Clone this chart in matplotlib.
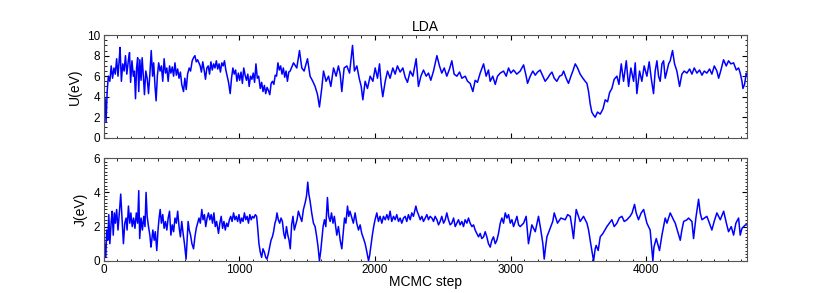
import numpy as np
import matplotlib
matplotlib.use("Agg")
import matplotlib.pyplot as plt
from matplotlib.ticker import MultipleLocator

plt.rcParams['font.family'] = ['Liberation Sans', 'DejaVu Sans']

# U(eV) trace (step, value)
u_steps = [0, 10, 17, 25, 34, 45, 55, 65, 75, 85, 95, 105, 113, 120, 130, 140, 150, 160, 170, 182,
           190, 198, 208, 218, 226, 234, 242, 250, 258, 266, 275, 283, 292, 300, 310, 320, 330, 340, 350, 360,
           368, 378, 386, 395, 405, 415, 425, 435, 445, 455, 465, 475, 485, 495, 505, 515, 525, 535, 545, 555,
           565, 575, 588, 598, 608, 618, 630, 640, 652, 662, 672, 682, 692, 711, 720, 730, 740, 750, 760, 770,
           780, 790, 800, 810, 820, 830, 840, 850, 860, 870, 880, 890, 900, 910, 920, 932, 942, 952, 962, 972,
           982, 992, 1002, 1012, 1022, 1032, 1042, 1052, 1062, 1072, 1082, 1092, 1102, 1112, 1122, 1132, 1142, 1154, 1164, 1174,
           1184, 1194, 1204, 1214, 1224, 1234, 1244, 1254, 1264, 1274, 1284, 1294, 1304, 1314, 1324, 1334, 1344, 1354, 1364,
           1374, 1399, 1423, 1443, 1460, 1477, 1502, 1521, 1541, 1558, 1576, 1590, 1607, 1620, 1639, 1657, 1674, 1694, 1713, 1730,
           1743, 1755, 1772, 1792, 1812, 1834, 1848, 1866, 1883, 1898, 1910, 1927, 1944, 1964, 1984, 2001, 2018, 2033, 2045, 2057,
           2075, 2092, 2111, 2131, 2148, 2165, 2185, 2205, 2222, 2239, 2259, 2279, 2303, 2320, 2338, 2357, 2377, 2394, 2411, 2431,
           2456, 2475, 2492, 2510, 2529, 2549, 2566, 2583, 2603, 2623, 2640, 2665, 2682, 2701, 2721, 2738, 2755, 2775, 2800, 2819,
           2836, 2849, 2868, 2886, 2903, 2923, 2947, 2967, 2984, 3001, 3021, 3045,
           3070, 3095, 3114, 3124, 3144, 3163, 3181, 3198, 3217, 3237, 3254, 3272, 3291, 3304, 3321, 3340, 3360, 3377, 3390, 3409,
           3426, 3444, 3458, 3476, 3493, 3512, 3532, 3549, 3562, 3574, 3586, 3598, 3611, 3623, 3640, 3660, 3680, 3697, 3714, 3729,
           3746, 3763, 3783, 3798, 3815, 3832, 3852, 3869, 3886, 3906, 3918, 3930, 3950, 3967, 3984, 4004, 4021, 4036, 4053, 4065,
           4078, 4090, 4102, 4115, 4127, 4139, 4152, 4164, 4176, 4193, 4208, 4225, 4245, 4262, 4279, 4299, 4319, 4336, 4353, 4373,
           4392, 4410, 4427, 4446, 4466, 4483, 4501, 4520, 4533, 4550, 4569, 4589, 4606, 4623, 4643, 4663, 4680, 4692, 4705, 4712,
           4724, 4737, 4742]
u_vals = [4.0, 3.8, 1.5, 4.5, 6.0, 5.5, 7.0, 5.8, 6.8, 6.2, 7.7, 6.0, 7.4, 8.8, 5.5, 7.2, 6.5, 8.0, 6.2, 7.6,
          8.3, 5.4, 7.5, 6.0, 6.5, 3.8, 6.8, 7.8, 4.5, 7.6, 5.6, 7.8, 6.0, 4.2, 6.5, 5.8, 4.3, 6.2, 8.5, 6.0,
          7.3, 5.0, 3.6, 6.0, 7.3, 6.5, 7.0, 5.5, 7.7, 6.3, 6.8, 5.5, 7.0, 6.3, 6.9, 6.0, 7.3, 6.1, 6.7, 5.8,
          6.4, 5.2, 4.5, 5.8, 4.7, 6.2, 6.8, 6.5, 7.5, 7.8, 8.0, 7.4, 7.6, 7.0, 6.4, 7.4, 6.6, 5.7, 6.8, 7.0,
          6.2, 7.4, 6.6, 7.2, 6.8, 7.5, 6.7, 7.2, 6.4, 7.3, 7.0, 7.5, 6.6, 6.0, 5.4, 4.3, 5.8, 6.8, 6.2, 6.6,
          5.5, 6.3, 5.6, 6.4, 5.3, 6.8, 6.1, 5.6, 6.2, 5.0, 6.0, 5.7, 6.3, 5.4, 7.2, 5.8, 6.0, 4.8, 5.4, 4.5,
          5.1, 4.3, 4.9, 4.6, 4.2, 5.3, 5.5, 5.2, 6.1, 6.0, 7.3, 6.6, 7.0, 6.2, 6.8, 5.9, 6.5, 5.5, 6.4,
          6.5, 7.3, 6.8, 8.5, 6.8, 6.5, 7.7, 6.0, 5.5, 5.0, 4.2, 3.0, 4.8, 6.5, 5.5, 6.0, 5.0, 6.8, 6.0, 7.0,
          6.2, 4.5, 6.8, 7.0, 6.3, 9.0, 6.5, 7.0, 5.8, 5.0, 3.7, 5.5, 4.8, 6.0, 5.5, 6.8, 5.8, 7.2, 5.2, 4.0,
          5.5, 6.5, 5.8, 6.8, 6.2, 7.0, 6.4, 6.8, 5.9, 5.4, 6.5, 6.0, 7.7, 5.0, 6.0, 6.6, 6.0, 6.3, 5.6, 6.5,
          8.0, 7.0, 6.3, 6.8, 6.0, 6.7, 7.5, 6.2, 6.0, 6.4, 5.8, 6.0, 5.5, 5.3, 4.5, 5.6, 5.4, 6.3, 7.2, 6.0,
          6.6, 5.5, 6.0, 5.2, 6.0, 6.3, 6.5, 6.0, 6.8, 6.3, 6.6, 6.2,
          6.5, 7.1, 6.0, 5.3, 6.0, 6.5, 6.1, 6.4, 6.6, 6.0, 5.5, 5.8, 6.2, 6.4, 5.8, 5.5, 6.0, 6.1, 6.5, 5.8,
          5.3, 6.0, 6.5, 7.2, 6.8, 6.2, 5.8, 5.5, 5.3, 4.5, 3.3, 2.5, 2.2, 2.0, 2.5, 2.3, 2.8, 3.7, 3.5, 4.4,
          4.8, 5.7, 6.0, 5.2, 7.2, 5.5, 7.5, 5.0, 6.8, 5.5, 7.3, 4.3, 6.5, 5.5, 7.0, 6.0, 7.4, 5.8, 4.3, 6.5,
          7.5, 6.0, 5.5, 7.2, 7.5, 5.8, 6.5, 7.2, 7.5, 8.5, 7.2, 6.5, 5.0, 6.2, 6.5, 6.3, 6.7, 6.2, 6.8, 6.3,
          6.6, 6.1, 6.5, 6.3, 6.7, 6.2, 7.0, 6.5, 5.8, 6.6, 7.6, 7.0, 7.5, 7.2, 7.3, 6.6, 6.8, 6.3, 5.5, 4.8,
          5.2, 6.3, 6.0]

# J(eV) trace (step, value)
j_steps = [0, 8, 15, 22, 30, 37, 45, 55, 62, 70, 78, 86, 95, 105, 115, 125, 135, 145, 155, 165,
           172, 182, 192, 200, 210, 220, 230, 240, 250, 258, 265, 275, 285, 295, 304, 312, 320, 330, 340, 348,
           354, 362, 372, 380, 391, 400, 408, 416, 425, 435, 445, 455, 465, 475, 485, 495, 505, 515, 525, 535,
           545, 555, 565, 575, 585, 595, 607, 615, 622, 630, 640, 650, 662, 672, 682, 692, 702, 712, 723, 732,
           742, 752, 762, 772, 782, 792, 802, 812, 822, 832, 846, 856, 866, 876, 886, 896, 906, 916, 926, 936,
           946, 957, 967, 977, 987, 997, 1007, 1017, 1027, 1037, 1047, 1057, 1067, 1077, 1087, 1097, 1107, 1117, 1127, 1134,
           1144, 1154, 1164, 1174, 1184, 1194, 1203, 1213, 1223, 1233, 1243, 1252, 1262, 1270, 1277, 1287, 1297, 1307, 1317, 1327,
           1337, 1347, 1357, 1366, 1375, 1385, 1395, 1405, 1415, 1425, 1435, 1447, 1460, 1472, 1485, 1495, 1504, 1512, 1521, 1533,
           1546, 1558, 1570, 1580, 1590, 1600, 1607, 1617, 1627, 1637, 1649, 1658, 1669, 1679, 1690, 1700, 1718, 1730, 1743, 1755,
           1765, 1775, 1785, 1797, 1806, 1815, 1829, 1840, 1853, 1865, 1878, 1890, 1902, 1915, 1927, 1940, 1952, 1960, 1968, 1980,
           1990, 2000, 2013, 2025, 2037, 2050, 2062, 2075, 2087, 2099, 2111, 2123, 2136, 2148, 2160, 2173, 2185, 2197, 2210, 2222,
           2234, 2246, 2259, 2271, 2283, 2292, 2301, 2310, 2320, 2333, 2345, 2357, 2370, 2382, 2394, 2406, 2419, 2431, 2443, 2456,
           2468, 2480, 2492, 2505, 2517, 2529, 2541, 2554, 2566, 2579, 2591, 2603, 2615, 2627, 2640, 2652, 2664, 2677, 2689, 2701,
           2714, 2726, 2738, 2750, 2763, 2775, 2787, 2800, 2812, 2824, 2836, 2849, 2861, 2873, 2886, 2898, 2910, 2923, 2935, 2947,
           2960, 2972, 2984, 2997, 3009, 3021, 3034, 3046, 3058,
           3070, 3095, 3114, 3131, 3156, 3181, 3205, 3222, 3237, 3247, 3257, 3267, 3291, 3310, 3321, 3345, 3370, 3402, 3420, 3439,
           3451, 3463, 3473, 3483, 3500, 3512, 3537, 3562, 3574, 3594, 3611, 3623, 3630, 3645, 3660, 3680, 3709, 3746, 3763, 3783,
           3800, 3820, 3837, 3857, 3880, 3895, 3913, 3925, 3942, 3962, 3980, 4004, 4028, 4048, 4056, 4073, 4097, 4115, 4139, 4152,
           4176, 4200, 4213, 4250, 4262, 4275, 4300, 4311, 4336, 4348, 4365, 4385, 4397, 4410, 4446, 4465, 4483, 4500, 4520, 4545,
           4570, 4590, 4606, 4626, 4643, 4660, 4680, 4692, 4705, 4730, 4742]
j_vals = [1.5, 0.8, 0.2, 1.8, 1.2, 2.7, 1.0, 2.3, 2.9, 1.5, 2.8, 2.2, 3.0, 1.8, 2.8, 3.9, 2.5, 1.0, 2.2, 2.5,
          1.8, 3.2, 2.2, 2.8, 2.0, 2.5, 1.9, 2.8, 2.2, 4.1, 1.3, 2.5, 1.8, 2.6, 2.0, 4.0, 2.6, 2.0, 1.5, 0.8,
          1.2, 1.8, 1.2, 1.7, 0.6, 1.8, 2.5, 3.0, 2.2, 2.7, 1.9, 2.3, 1.8, 2.5, 2.9, 1.5, 2.1, 1.7, 2.5, 2.2,
          2.9, 2.0, 1.4, 2.3, 1.6, 1.0, 0.1, 1.3, 2.3, 1.8, 1.5, 1.0, 0.7, 1.4, 1.9, 2.2, 2.5, 2.2, 3.0, 2.4,
          2.7, 2.0, 2.5, 2.8, 2.4, 2.7, 2.2, 2.8, 2.0, 2.3, 1.6, 2.2, 2.6, 1.9, 2.3, 1.8, 2.2, 2.0, 2.4, 2.6,
          2.3, 2.8, 2.4, 2.6, 2.3, 2.7, 2.2, 2.5, 2.3, 2.8, 2.4, 2.6, 2.2, 2.7, 2.4, 2.6, 2.5, 2.7, 2.6, 2.0,
          1.0, 0.5, 0.2, 0.7, 0.5, 0.2, 0.1, 0.4, 0.8, 1.2, 1.4, 1.7, 2.2, 2.4, 2.8, 2.4, 2.2, 2.5, 2.3, 1.6,
          1.3, 2.0, 1.5, 1.2, 0.7, 2.1, 2.6, 1.8, 2.1, 2.4, 2.9, 2.6, 2.3, 3.0, 3.4, 3.8, 4.6, 3.9, 3.5, 2.8,
          2.2, 2.0, 1.4, 0.8, 0.0, 0.6, 1.2, 2.0, 2.4, 2.0, 3.7, 2.6, 2.3, 2.8, 2.2, 2.6, 1.5, 2.0, 1.2, 0.7,
          1.6, 2.5, 2.2, 3.2, 2.6, 2.9, 2.5, 2.2, 2.8, 2.2, 1.8, 2.1, 1.6, 1.3, 1.0, 0.5, 0.0, 0.3, 0.8, 1.5,
          2.0, 2.4, 2.8, 2.3, 2.6, 2.2, 2.6, 2.4, 2.7, 2.4, 2.9, 2.3, 2.6, 2.4, 2.7, 2.3, 2.5, 2.2, 2.5, 2.6,
          2.3, 2.7, 2.4, 2.8, 2.6, 2.9, 3.2, 2.9, 2.7, 2.4, 2.6, 2.3, 2.5, 2.7, 2.4, 2.6, 2.5, 2.3, 2.6, 2.4,
          2.1, 2.3, 2.6, 2.2, 2.4, 2.8, 2.4, 2.1, 2.2, 2.5, 2.0, 2.2, 2.4, 2.1, 2.3, 2.0, 2.4, 2.2, 2.5, 2.2,
          2.0, 2.1, 1.8, 1.6, 1.4, 1.6, 1.3, 1.4, 1.7, 1.4, 1.0, 0.8, 1.2, 1.4, 1.0, 1.2, 1.6, 2.2, 2.5, 2.2,
          2.8, 2.5, 2.7, 2.2, 2.4, 2.0, 2.3, 2.6, 2.1,
          2.0, 2.2, 2.6, 1.0, 2.1, 1.7, 2.6, 1.8, 1.0, 0.1, 0.8, 1.4, 1.9, 2.3, 2.8, 2.2, 2.5, 2.4, 2.7, 2.6,
          2.0, 1.3, 2.2, 3.0, 2.6, 2.3, 2.6, 2.2, 1.8, 0.8, 0.0, 0.7, 0.9, 0.6, 1.4, 1.6, 2.0, 2.4, 2.0, 2.2,
          2.5, 2.6, 2.3, 2.4, 2.6, 2.8, 3.3, 2.8, 2.4, 2.8, 3.0, 2.2, 1.8, 0.0, 0.8, 1.3, 0.6, 1.5, 2.5, 2.2,
          2.8, 2.4, 2.2, 1.2, 1.8, 2.3, 2.4, 2.5, 2.3, 1.3, 2.5, 3.6, 2.8, 2.4, 2.6, 2.2, 1.8, 2.3, 2.8, 2.4,
          2.9, 2.2, 1.7, 2.0, 1.5, 2.2, 2.5, 1.5, 1.9, 2.1, 2.1]

n_steps = 4742

fig, (ax1, ax2) = plt.subplots(2, 1, figsize=(8.3, 2.93), dpi=100)

ax1.plot(u_steps, u_vals, color='blue', lw=1.1)
ax2.plot(j_steps, j_vals, color='blue', lw=1.1)

ax1.set_ylim(0, 10)
ax2.set_ylim(0, 6)
ax1.set_xticklabels([])
ax1.set_title('LDA', fontsize=10, pad=3)
ax1.set_ylabel('U(eV)', fontsize=10)
ax2.set_ylabel('J(eV)', fontsize=10)
ax2.set_xlabel('MCMC step', fontsize=10, labelpad=-1)

for ax in (ax1, ax2):
    ax.set_xlim(0, n_steps)
    ax.xaxis.set_major_locator(MultipleLocator(1000))
    ax.xaxis.set_minor_locator(MultipleLocator(100))
    ax.tick_params(which='both', direction='in', top=True, right=True, labelsize=8.5, pad=2.5)
    ax.tick_params(which='major', length=3.5, width=0.8)
    ax.tick_params(which='minor', length=1.8, width=0.6)
    for s in ax.spines.values():
        s.set_color('#555555')

ax1.yaxis.set_major_locator(MultipleLocator(2))
ax1.yaxis.set_minor_locator(MultipleLocator(0.5))
ax2.yaxis.set_major_locator(MultipleLocator(2))
ax2.yaxis.set_minor_locator(MultipleLocator(0.2))

plt.savefig("out.png")
